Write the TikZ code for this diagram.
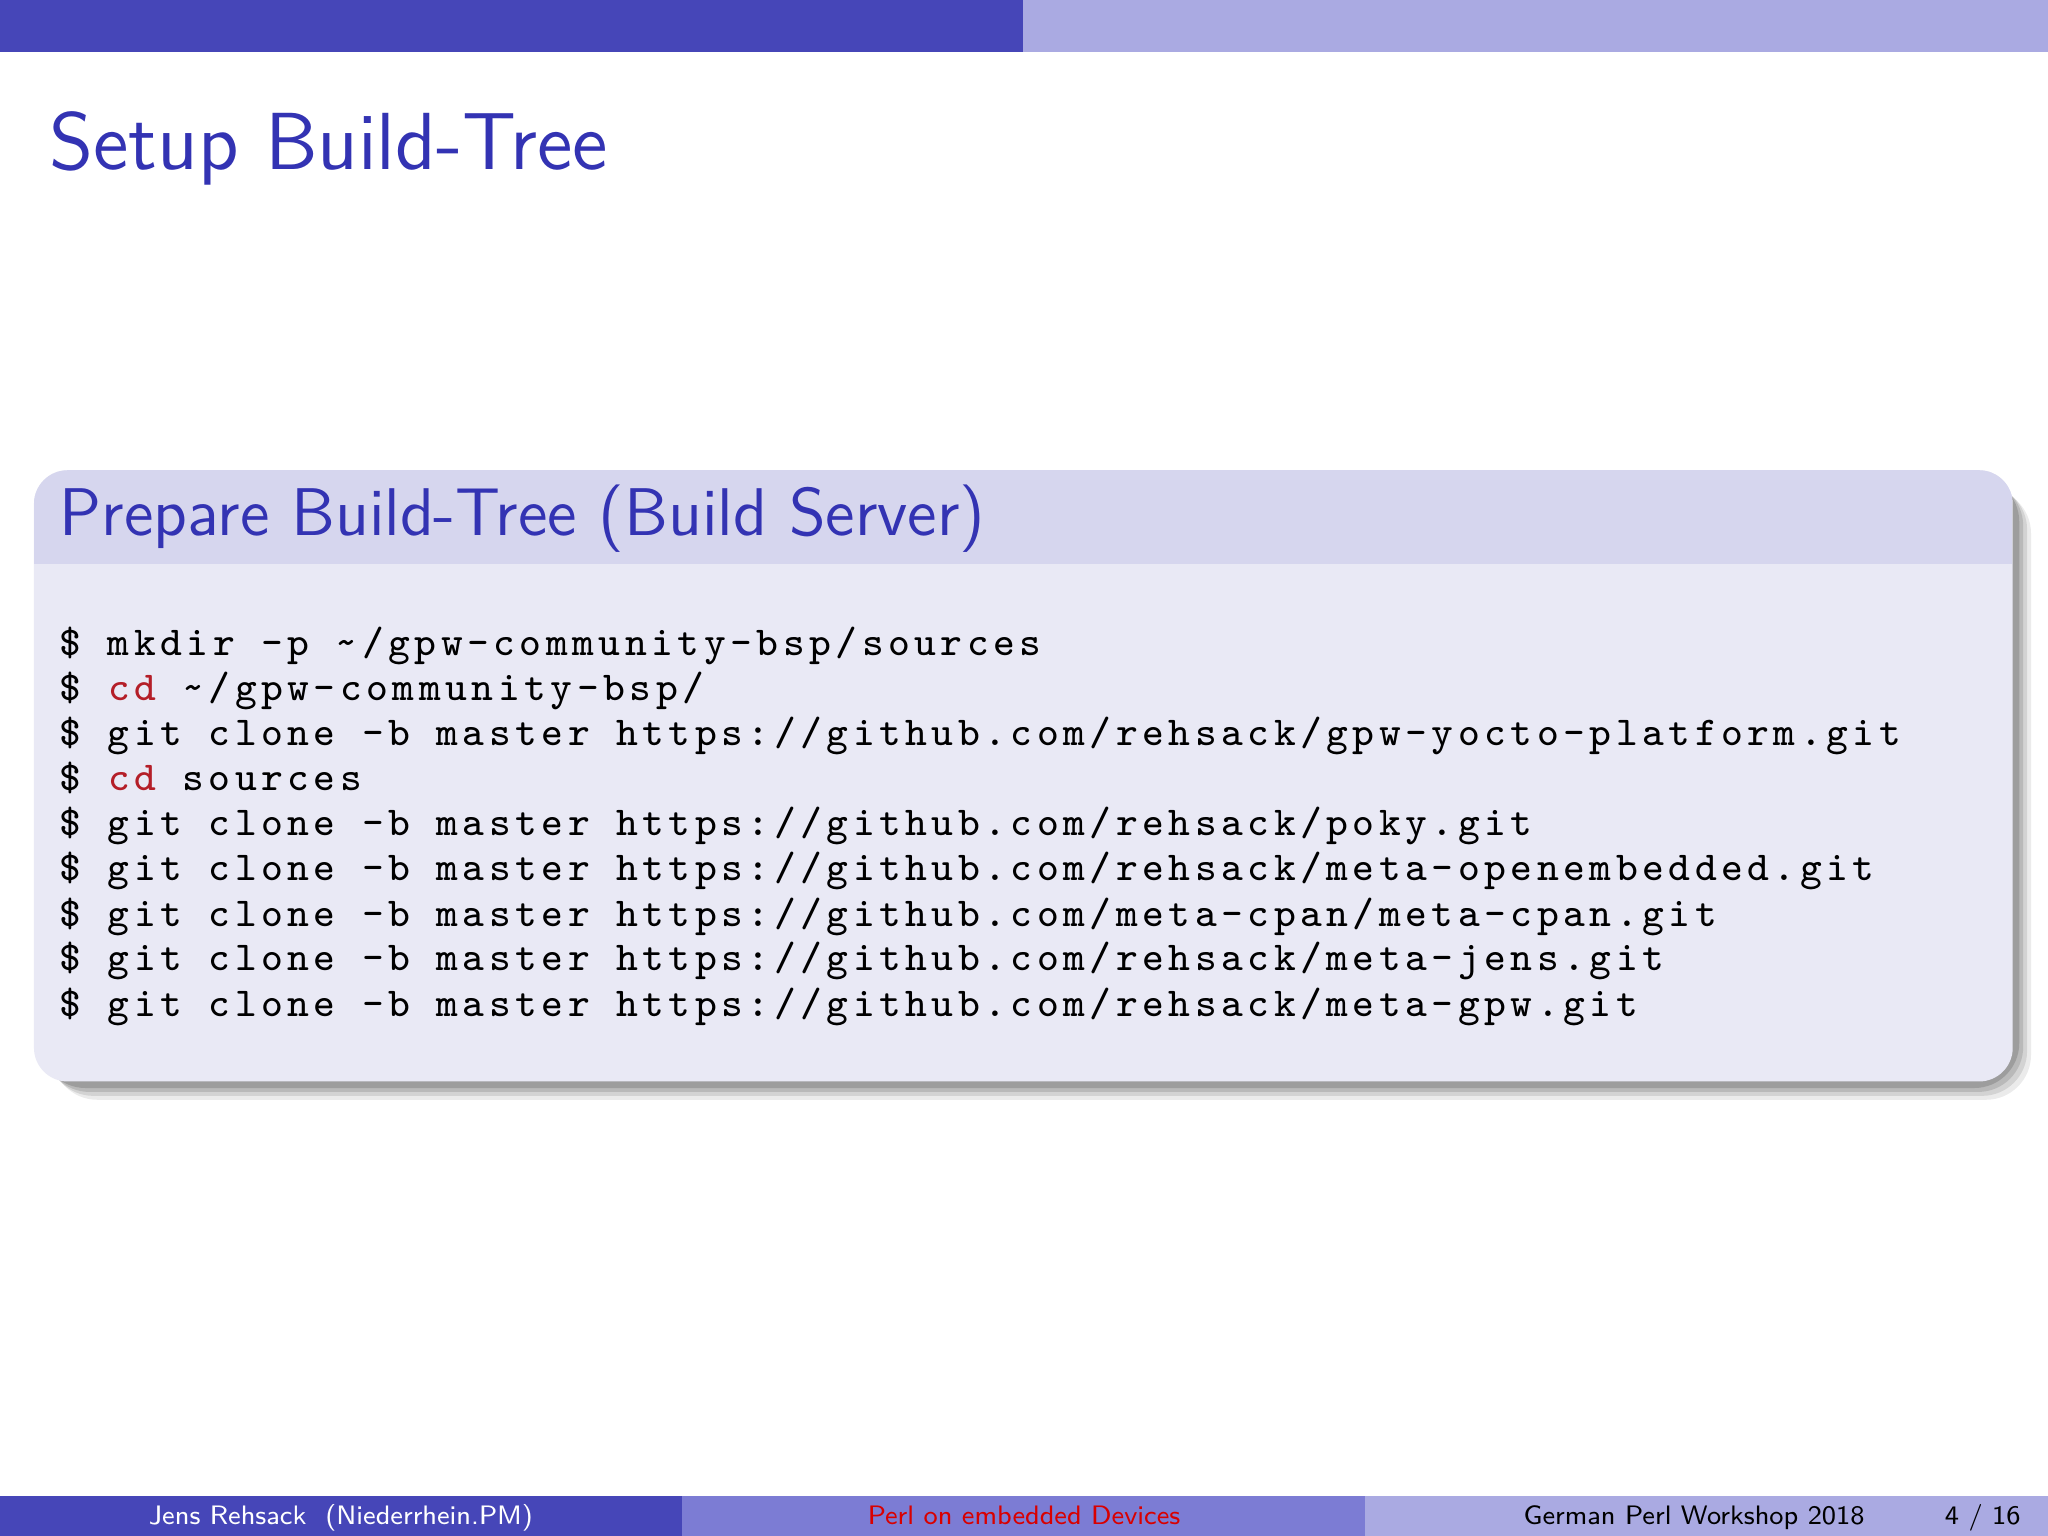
\documentclass[tikz,border=0pt]{standalone}
\usepackage{fontspec}
\usetikzlibrary{shadows}
\newfontfamily\codefont[LetterSpace=11]{Latin Modern Mono}
\definecolor{dark}{RGB}{70,70,184}
\definecolor{mid}{RGB}{124,124,212}
\definecolor{light}{RGB}{170,170,226}
\definecolor{titlec}{RGB}{51,51,179}
\definecolor{btitle}{RGB}{214,214,238}
\definecolor{bbody}{RGB}{233,233,245}
\definecolor{kw}{RGB}{180,30,40}
\tikzset{codeline/.style={anchor=base west,inner sep=0pt,font=\codefont\fontsize{7.3}{9}\selectfont},
foot/.style={inner sep=0pt,anchor=base,font=\sffamily\fontsize{4.75}{6}\selectfont}}
\begin{document}
\begin{tikzpicture}[x=0.08163mm,y=-0.08163mm]
\useasboundingbox (0,0) rectangle (1568,1176);
\fill[white] (0,0) rectangle (1568,1176);
\fill[dark] (0,0) rectangle (783,40);
\fill[light] (783,0) rectangle (1568,40);
\node[anchor=base west,inner sep=0pt,text=titlec,font=\sffamily\fontsize{14.4}{16}\selectfont] (title) at (37,130) {Setup Build-Tree};
% block
\foreach \i/\o in {14/0.08,11/0.1,8/0.12,5/0.15}{
  \fill[black,opacity=\o,rounded corners=8] (26+\i,360+\i) rectangle (1541+\i,828+\i);}
\fill[bbody,rounded corners=6] (26,360) rectangle (1541,828);
\begin{scope}
\clip[rounded corners=6] (26,360) rectangle (1541,828);
\fill[btitle] (26,360) rectangle (1541,432);
\end{scope}
\node[anchor=base west,inner sep=0pt,text=titlec,font=\sffamily\fontsize{12}{14}\selectfont] (btitle) at (45,410) {Prepare Build-Tree (Build Server)};
\node[codeline] (l1) at (45,502) {\$ mkdir -p \string~/gpw-community-bsp/sources};
\node[codeline] (l2) at (45,536) {\$ \textcolor{kw}{cd} \string~/gpw-community-bsp/};
\node[codeline] (l3) at (45,571) {\$ git clone -b master https://github.com/rehsack/gpw-yocto-platform.git};
\node[codeline] (l4) at (45,605) {\$ \textcolor{kw}{cd} sources};
\node[codeline] (l5) at (45,640) {\$ git clone -b master https://github.com/rehsack/poky.git};
\node[codeline] (l6) at (45,674) {\$ git clone -b master https://github.com/rehsack/meta-openembedded.git};
\node[codeline] (l7) at (45,709) {\$ git clone -b master https://github.com/meta-cpan/meta-cpan.git};
\node[codeline] (l8) at (45,743) {\$ git clone -b master https://github.com/rehsack/meta-jens.git};
\node[codeline] (l9) at (45,778) {\$ git clone -b master https://github.com/rehsack/meta-gpw.git};
% footer
\fill[dark] (0,1145) rectangle (522,1176);
\fill[mid] (522,1145) rectangle (1045,1176);
\fill[light] (1045,1145) rectangle (1568,1176);
\node[foot,text=white] (f1) at (261,1167) {Jens Rehsack\ \ (Niederrhein.PM)};
\node[foot,text=red!85!black] (f2) at (784,1167) {Perl on embedded Devices};
\node[foot,text=black] (f3) at (1297,1167) {German Perl Workshop 2018};
\node[foot,text=black] (f4) at (1518,1167) {4 / 16};
\end{tikzpicture}
\end{document}
